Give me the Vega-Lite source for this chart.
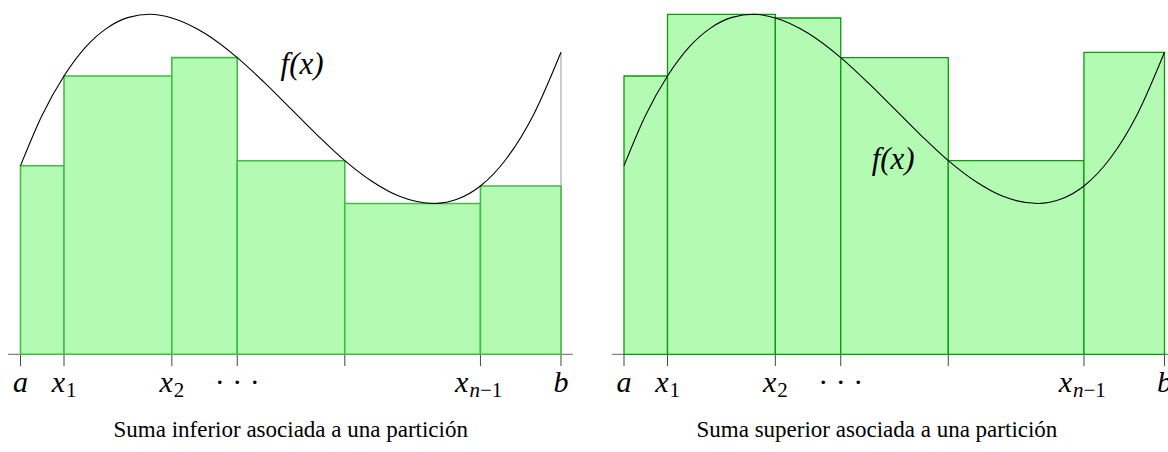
{
  "$schema": "https://vega.github.io/schema/vega-lite/v6.json",
  "padding": 0,
  "spacing": 0,
  "bounds": "flush",
  "background": "white",
  "config": {"view": {"stroke": null}},
  "datasets": {
    "curve": [
      {"t": 0, "f": 188.6}, {"t": 0.4, "f": 239.1}, {"t": 0.805, "f": 278.3}, {"t": 1.2, "f": 306.9},
      {"t": 1.6, "f": 326.2}, {"t": 2.0, "f": 336.9}, {"t": 2.4, "f": 340.0}, {"t": 2.8, "f": 336.3},
      {"t": 3.4, "f": 321.3}, {"t": 4.01, "f": 296.7}, {"t": 4.5, "f": 272.4}, {"t": 5.0, "f": 245.6},
      {"t": 5.5, "f": 218.7}, {"t": 6.0, "f": 193.6}, {"t": 6.5, "f": 173.0}, {"t": 7.0, "f": 158.2},
      {"t": 7.66, "f": 150.8}, {"t": 8.1, "f": 155.5}, {"t": 8.51, "f": 168.3}, {"t": 9.0, "f": 196.3},
      {"t": 9.5, "f": 240.4}, {"t": 10, "f": 302.0}
    ],
    "ticks": [{"t": 0}, {"t": 0.805}, {"t": 2.8}, {"t": 4.01}, {"t": 6.0}, {"t": 8.51}, {"t": 10}],
    "ends": [{"t": 0, "f": 188.6}, {"t": 10, "f": 302.0}],
    "labels": [
      {"t": 0, "main": "a", "kind": "letter"},
      {"t": 0.805, "main": "x", "sub": "1", "kind": "digit"},
      {"t": 2.8, "main": "x", "sub": "2", "kind": "digit"},
      {"t": 4.01, "main": "· · ·", "kind": "dots"},
      {"t": 8.51, "main": "x", "sub": "n", "sub2": "−1", "kind": "n"},
      {"t": 10, "main": "b", "kind": "letter"}
    ],
    "lower": [
      {"t0": 0, "t1": 0.805, "h": 188.6}, {"t0": 0.805, "t1": 2.8, "h": 278.3},
      {"t0": 2.8, "t1": 4.01, "h": 296.7}, {"t0": 4.01, "t1": 6.0, "h": 193.6},
      {"t0": 6.0, "t1": 8.51, "h": 150.8}, {"t0": 8.51, "t1": 10, "h": 168.3}
    ],
    "upper": [
      {"t0": 0, "t1": 0.805, "h": 278.3}, {"t0": 0.805, "t1": 2.8, "h": 340.0},
      {"t0": 2.8, "t1": 4.01, "h": 336.3}, {"t0": 4.01, "t1": 6.0, "h": 296.7},
      {"t0": 6.0, "t1": 8.51, "h": 193.6}, {"t0": 8.51, "t1": 10, "h": 302.0}
    ],
    "axisL": [{"t0": -0.231, "t1": 10.22}],
    "axisR": [{"t0": -0.222, "t1": 11}],
    "fxL": [{"t": 5.21, "f": 289.3, "txt": "f(x)"}],
    "fxR": [{"t": 4.98, "f": 194.3, "txt": "f(x)"}],
    "capL": [{"t": 5.0, "txt": "Suma inferior asociada a una partición"}],
    "capR": [{"t": 4.68, "txt": "Suma superior asociada a una partición"}]
  },
  "hconcat": [
    {
      "width": 604,
      "height": 452,
      "layer": [
        {
          "data": {"name": "axisL"},
          "mark": {"type": "rule", "color": "#666666", "strokeWidth": 1},
          "encoding": {
            "x": {"field": "t0", "type": "quantitative", "scale": {"domain": [-0.3793, 10.796], "nice": false, "zero": false}, "axis": null},
            "x2": {"field": "t1"},
            "y": {"datum": 0, "type": "quantitative", "scale": {"domain": [-97.7, 354.3], "nice": false, "zero": false}, "axis": null}
          }
        },
        {
          "data": {"name": "ticks"},
          "mark": {"type": "tick", "orient": "vertical", "size": 11.7, "thickness": 1, "color": "#444444", "opacity": 1},
          "encoding": {
            "x": {"field": "t", "type": "quantitative"},
            "y": {"datum": -5.85, "type": "quantitative"}
          }
        },
        {
          "data": {"name": "ends"},
          "mark": {"type": "rule", "color": "#999999", "strokeWidth": 1},
          "encoding": {
            "x": {"field": "t", "type": "quantitative"},
            "y": {"field": "f", "type": "quantitative"},
            "y2": {"datum": 0}
          }
        },
        {
          "data": {"name": "lower"},
          "mark": {"type": "rect", "fill": "#b3fbb3", "stroke": "#44bb44", "strokeWidth": 1.6},
          "encoding": {
            "x": {"field": "t0", "type": "quantitative"},
            "x2": {"field": "t1"},
            "y": {"field": "h", "type": "quantitative"},
            "y2": {"datum": 0}
          }
        },
        {
          "data": {"name": "curve"},
          "mark": {"type": "line", "color": "black", "strokeWidth": 1.1, "interpolate": "monotone"},
          "encoding": {
            "x": {"field": "t", "type": "quantitative"},
            "y": {"field": "f", "type": "quantitative"}
          }
        },
        {
          "data": {"name": "fxL"},
          "mark": {"type": "text", "font": "Liberation Serif", "fontStyle": "italic", "fontSize": 31, "align": "center", "baseline": "middle", "color": "black"},
          "encoding": {
            "x": {"field": "t", "type": "quantitative"},
            "y": {"field": "f", "type": "quantitative"},
            "text": {"field": "txt"}
          }
        },
        {
          "data": {"name": "labels"},
          "transform": [{"filter": "datum.kind == 'letter'"}],
          "mark": {"type": "text", "font": "Liberation Serif", "fontStyle": "italic", "fontSize": 30, "align": "center", "baseline": "alphabetic", "color": "black"},
          "encoding": {
            "x": {"field": "t", "type": "quantitative"},
            "y": {"datum": -37.7, "type": "quantitative"},
            "text": {"field": "main"}
          }
        },
        {
          "data": {"name": "labels"},
          "transform": [{"filter": "datum.kind == 'dots'"}],
          "mark": {"type": "text", "font": "Liberation Serif", "fontSize": 30, "align": "center", "baseline": "alphabetic", "color": "black"},
          "encoding": {
            "x": {"field": "t", "type": "quantitative"},
            "y": {"datum": -37.7, "type": "quantitative"},
            "text": {"field": "main"}
          }
        },
        {
          "data": {"name": "labels"},
          "transform": [{"filter": "datum.kind == 'digit'"}],
          "mark": {"type": "text", "font": "Liberation Serif", "fontStyle": "italic", "fontSize": 30, "align": "right", "baseline": "alphabetic", "dx": 1, "color": "black"},
          "encoding": {
            "x": {"field": "t", "type": "quantitative"},
            "y": {"datum": -37.7, "type": "quantitative"},
            "text": {"field": "main"}
          }
        },
        {
          "data": {"name": "labels"},
          "transform": [{"filter": "datum.kind == 'digit'"}],
          "mark": {"type": "text", "font": "Liberation Serif", "fontSize": 21, "align": "left", "baseline": "alphabetic", "dx": 2, "dy": 5, "color": "black"},
          "encoding": {
            "x": {"field": "t", "type": "quantitative"},
            "y": {"datum": -37.7, "type": "quantitative"},
            "text": {"field": "sub"}
          }
        },
        {
          "data": {"name": "labels"},
          "transform": [{"filter": "datum.kind == 'n'"}],
          "mark": {"type": "text", "font": "Liberation Serif", "fontStyle": "italic", "fontSize": 30, "align": "right", "baseline": "alphabetic", "dx": -12, "color": "black"},
          "encoding": {
            "x": {"field": "t", "type": "quantitative"},
            "y": {"datum": -37.7, "type": "quantitative"},
            "text": {"field": "main"}
          }
        },
        {
          "data": {"name": "labels"},
          "transform": [{"filter": "datum.kind == 'n'"}],
          "mark": {"type": "text", "font": "Liberation Serif", "fontStyle": "italic", "fontSize": 21, "align": "left", "baseline": "alphabetic", "dx": -11, "dy": 5, "color": "black"},
          "encoding": {
            "x": {"field": "t", "type": "quantitative"},
            "y": {"datum": -37.7, "type": "quantitative"},
            "text": {"field": "sub"}
          }
        },
        {
          "data": {"name": "labels"},
          "transform": [{"filter": "datum.kind == 'n'"}],
          "mark": {"type": "text", "font": "Liberation Serif", "fontSize": 21, "align": "left", "baseline": "alphabetic", "dx": -0.5, "dy": 5, "color": "black"},
          "encoding": {
            "x": {"field": "t", "type": "quantitative"},
            "y": {"datum": -37.7, "type": "quantitative"},
            "text": {"field": "sub2"}
          }
        },
        {
          "data": {"name": "capL"},
          "mark": {"type": "text", "font": "Liberation Serif", "fontSize": 23, "align": "center", "baseline": "middle", "color": "black"},
          "encoding": {
            "x": {"field": "t", "type": "quantitative"},
            "y": {"datum": -75.7, "type": "quantitative"},
            "text": {"field": "txt"}
          }
        }
      ]
    },
    {
      "width": 564,
      "height": 452,
      "layer": [
        {
          "data": {"name": "axisR"},
          "mark": {"type": "rule", "color": "#666666", "strokeWidth": 1, "clip": true},
          "encoding": {
            "x": {"field": "t0", "type": "quantitative", "scale": {"domain": [-0.37, 10.065], "nice": false, "zero": false}, "axis": null},
            "x2": {"field": "t1"},
            "y": {"datum": 0, "type": "quantitative", "scale": {"domain": [-97.7, 354.3], "nice": false, "zero": false}, "axis": null}
          }
        },
        {
          "data": {"name": "ticks"},
          "mark": {"type": "tick", "orient": "vertical", "size": 11.7, "thickness": 1, "color": "#444444", "opacity": 1, "clip": true},
          "encoding": {
            "x": {"field": "t", "type": "quantitative"},
            "y": {"datum": -5.85, "type": "quantitative"}
          }
        },
        {
          "data": {"name": "upper"},
          "mark": {"type": "rect", "fill": "#b3fbb3", "stroke": "#0a9a0a", "strokeWidth": 1.3, "clip": true},
          "encoding": {
            "x": {"field": "t0", "type": "quantitative"},
            "x2": {"field": "t1"},
            "y": {"field": "h", "type": "quantitative"},
            "y2": {"datum": 0}
          }
        },
        {
          "data": {"name": "curve"},
          "mark": {"type": "line", "color": "black", "strokeWidth": 1.1, "interpolate": "monotone", "clip": true},
          "encoding": {
            "x": {"field": "t", "type": "quantitative"},
            "y": {"field": "f", "type": "quantitative"}
          }
        },
        {
          "data": {"name": "fxR"},
          "mark": {"type": "text", "font": "Liberation Serif", "fontStyle": "italic", "fontSize": 31, "align": "center", "baseline": "middle", "color": "black"},
          "encoding": {
            "x": {"field": "t", "type": "quantitative"},
            "y": {"field": "f", "type": "quantitative"},
            "text": {"field": "txt"}
          }
        },
        {
          "data": {"name": "labels"},
          "transform": [{"filter": "datum.kind == 'letter'"}],
          "mark": {"type": "text", "font": "Liberation Serif", "fontStyle": "italic", "fontSize": 30, "align": "center", "baseline": "alphabetic", "color": "black", "clip": true},
          "encoding": {
            "x": {"field": "t", "type": "quantitative"},
            "y": {"datum": -37.7, "type": "quantitative"},
            "text": {"field": "main"}
          }
        },
        {
          "data": {"name": "labels"},
          "transform": [{"filter": "datum.kind == 'dots'"}],
          "mark": {"type": "text", "font": "Liberation Serif", "fontSize": 30, "align": "center", "baseline": "alphabetic", "color": "black"},
          "encoding": {
            "x": {"field": "t", "type": "quantitative"},
            "y": {"datum": -37.7, "type": "quantitative"},
            "text": {"field": "main"}
          }
        },
        {
          "data": {"name": "labels"},
          "transform": [{"filter": "datum.kind == 'digit'"}],
          "mark": {"type": "text", "font": "Liberation Serif", "fontStyle": "italic", "fontSize": 30, "align": "right", "baseline": "alphabetic", "dx": 1, "color": "black"},
          "encoding": {
            "x": {"field": "t", "type": "quantitative"},
            "y": {"datum": -37.7, "type": "quantitative"},
            "text": {"field": "main"}
          }
        },
        {
          "data": {"name": "labels"},
          "transform": [{"filter": "datum.kind == 'digit'"}],
          "mark": {"type": "text", "font": "Liberation Serif", "fontSize": 21, "align": "left", "baseline": "alphabetic", "dx": 2, "dy": 5, "color": "black"},
          "encoding": {
            "x": {"field": "t", "type": "quantitative"},
            "y": {"datum": -37.7, "type": "quantitative"},
            "text": {"field": "sub"}
          }
        },
        {
          "data": {"name": "labels"},
          "transform": [{"filter": "datum.kind == 'n'"}],
          "mark": {"type": "text", "font": "Liberation Serif", "fontStyle": "italic", "fontSize": 30, "align": "right", "baseline": "alphabetic", "dx": -12, "color": "black"},
          "encoding": {
            "x": {"field": "t", "type": "quantitative"},
            "y": {"datum": -37.7, "type": "quantitative"},
            "text": {"field": "main"}
          }
        },
        {
          "data": {"name": "labels"},
          "transform": [{"filter": "datum.kind == 'n'"}],
          "mark": {"type": "text", "font": "Liberation Serif", "fontStyle": "italic", "fontSize": 21, "align": "left", "baseline": "alphabetic", "dx": -11, "dy": 5, "color": "black"},
          "encoding": {
            "x": {"field": "t", "type": "quantitative"},
            "y": {"datum": -37.7, "type": "quantitative"},
            "text": {"field": "sub"}
          }
        },
        {
          "data": {"name": "labels"},
          "transform": [{"filter": "datum.kind == 'n'"}],
          "mark": {"type": "text", "font": "Liberation Serif", "fontSize": 21, "align": "left", "baseline": "alphabetic", "dx": -0.5, "dy": 5, "color": "black"},
          "encoding": {
            "x": {"field": "t", "type": "quantitative"},
            "y": {"datum": -37.7, "type": "quantitative"},
            "text": {"field": "sub2"}
          }
        },
        {
          "data": {"name": "capR"},
          "mark": {"type": "text", "font": "Liberation Serif", "fontSize": 23, "align": "center", "baseline": "middle", "color": "black"},
          "encoding": {
            "x": {"field": "t", "type": "quantitative"},
            "y": {"datum": -75.7, "type": "quantitative"},
            "text": {"field": "txt"}
          }
        }
      ]
    }
  ]
}
